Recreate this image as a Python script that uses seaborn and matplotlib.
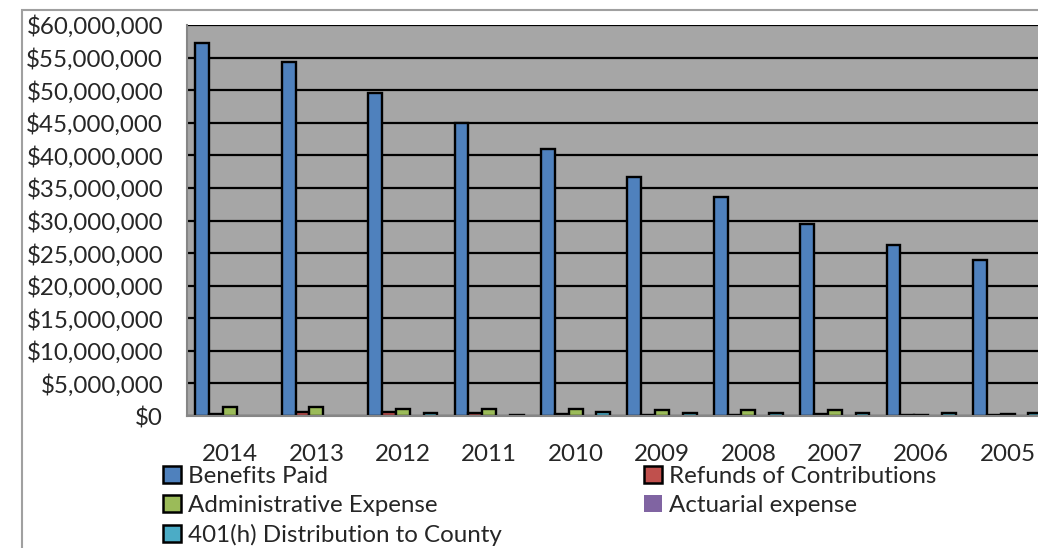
import matplotlib
matplotlib.use("Agg")
import matplotlib.pyplot as plt
from matplotlib.patches import Patch, Rectangle
from matplotlib.ticker import FuncFormatter, MultipleLocator
import seaborn as sns
import pandas as pd

years = ['2014', '2013', '2012', '2011', '2010', '2009', '2008', '2007', '2006', '2005']
series_names = ['Benefits Paid', 'Refunds of Contributions', 'Administrative Expense',
                'Actuarial expense', '401(h) Distribution to County']
benefits_paid = [57_200_000, 54_300_000, 49_600_000, 44_900_000, 41_000_000,
                 36_600_000, 33_600_000, 29_500_000, 26_200_000, 24_000_000]
refunds = [350_000, 600_000, 600_000, 450_000, 350_000, 200_000, 200_000, 350_000, 150_000, 100_000]
admin_expense = [1_450_000, 1_450_000, 1_100_000, 1_000_000, 1_000_000,
                 900_000, 900_000, 900_000, 150_000, 250_000]
actuarial = [0, 0, 0, 0, 0, 0, 0, 0, 0, 0]
dist_401h = [0, 0, 500_000, 200_000, 550_000, 500_000, 500_000, 500_000, 500_000, 500_000]
colors = ['#4F81BD', '#C0504D', '#9BBB59', '#8064A2', '#4BACC6']

rows = []
for name, vals in zip(series_names, [benefits_paid, refunds, admin_expense, actuarial, dist_401h]):
    for y, v in zip(years, vals):
        rows.append({'Year': y, 'Value': v, 'Series': name})
df = pd.DataFrame(rows)

sns.set_style('white')
plt.rcParams['font.family'] = ['Lato', 'DejaVu Sans']
FS = 17.4

W, H = 1038, 548
fig = plt.figure(figsize=(W / 100, H / 100), dpi=100)
fig.patch.set_facecolor('white')

# outer chart border
fig.patches.append(Rectangle((22 / W, -0.05), 1.2, 1 - 10 / H + 0.05, transform=fig.transFigure,
                             fill=False, edgecolor='#A0A0A0', linewidth=1.5))

left = 186.8 / W
bottom = (H - 416) / H
width = 864 / W
height = 391 / H
ax = fig.add_axes([left, bottom, width, height])
ax.set_facecolor('#A6A6A6')

sns.barplot(data=df, x='Year', y='Value', hue='Series', order=years, hue_order=series_names,
            palette=colors, edgecolor='black', linewidth=1.7, saturation=1, legend=False,
            errorbar=None, ax=ax)

for p in ax.patches:
    if p.get_height() == 0:
        p.set_visible(False)

ax.set_ylim(0, 60_000_000)
ax.set_xlim(-0.5, len(years) - 0.5)
ax.yaxis.set_major_locator(MultipleLocator(5_000_000))
ax.yaxis.set_major_formatter(FuncFormatter(lambda v, _: f"${v:,.0f}"))
ax.set_axisbelow(True)
ax.grid(axis='y', color='black', linewidth=1.6)
ax.grid(axis='x', visible=False)
ax.set_xlabel('')
ax.set_ylabel('')
ax.tick_params(axis='y', length=0, pad=17, labelsize=FS)
ax.tick_params(axis='x', length=0, pad=20.5, labelsize=FS)
for s in ['top', 'right']:
    ax.spines[s].set_visible(False)
for s in ['left', 'bottom']:
    ax.spines[s].set_color('#868686')
    ax.spines[s].set_linewidth(1.5)

handles = [Patch(facecolor=c, edgecolor=('none' if n == 'Actuarial expense' else 'black'),
                 linewidth=1.8, label=n) for n, c in zip(series_names, colors)]
leg_kw = dict(loc='upper left', frameon=False, fontsize=FS, handlelength=0.74, handleheight=0.72,
              handletextpad=0.28, labelspacing=0.33, borderpad=0, borderaxespad=0)
col1 = [0, 2, 4]
col2 = [1, 3]
fig.legend([handles[i] for i in col1], [series_names[i] for i in col1],
           bbox_to_anchor=(163 / W, 1 - 466 / H), **leg_kw)
fig.legend([handles[i] for i in col2], [series_names[i] for i in col2],
           bbox_to_anchor=(644 / W, 1 - 466 / H), **leg_kw)

fig.savefig('out.png', dpi=100)
